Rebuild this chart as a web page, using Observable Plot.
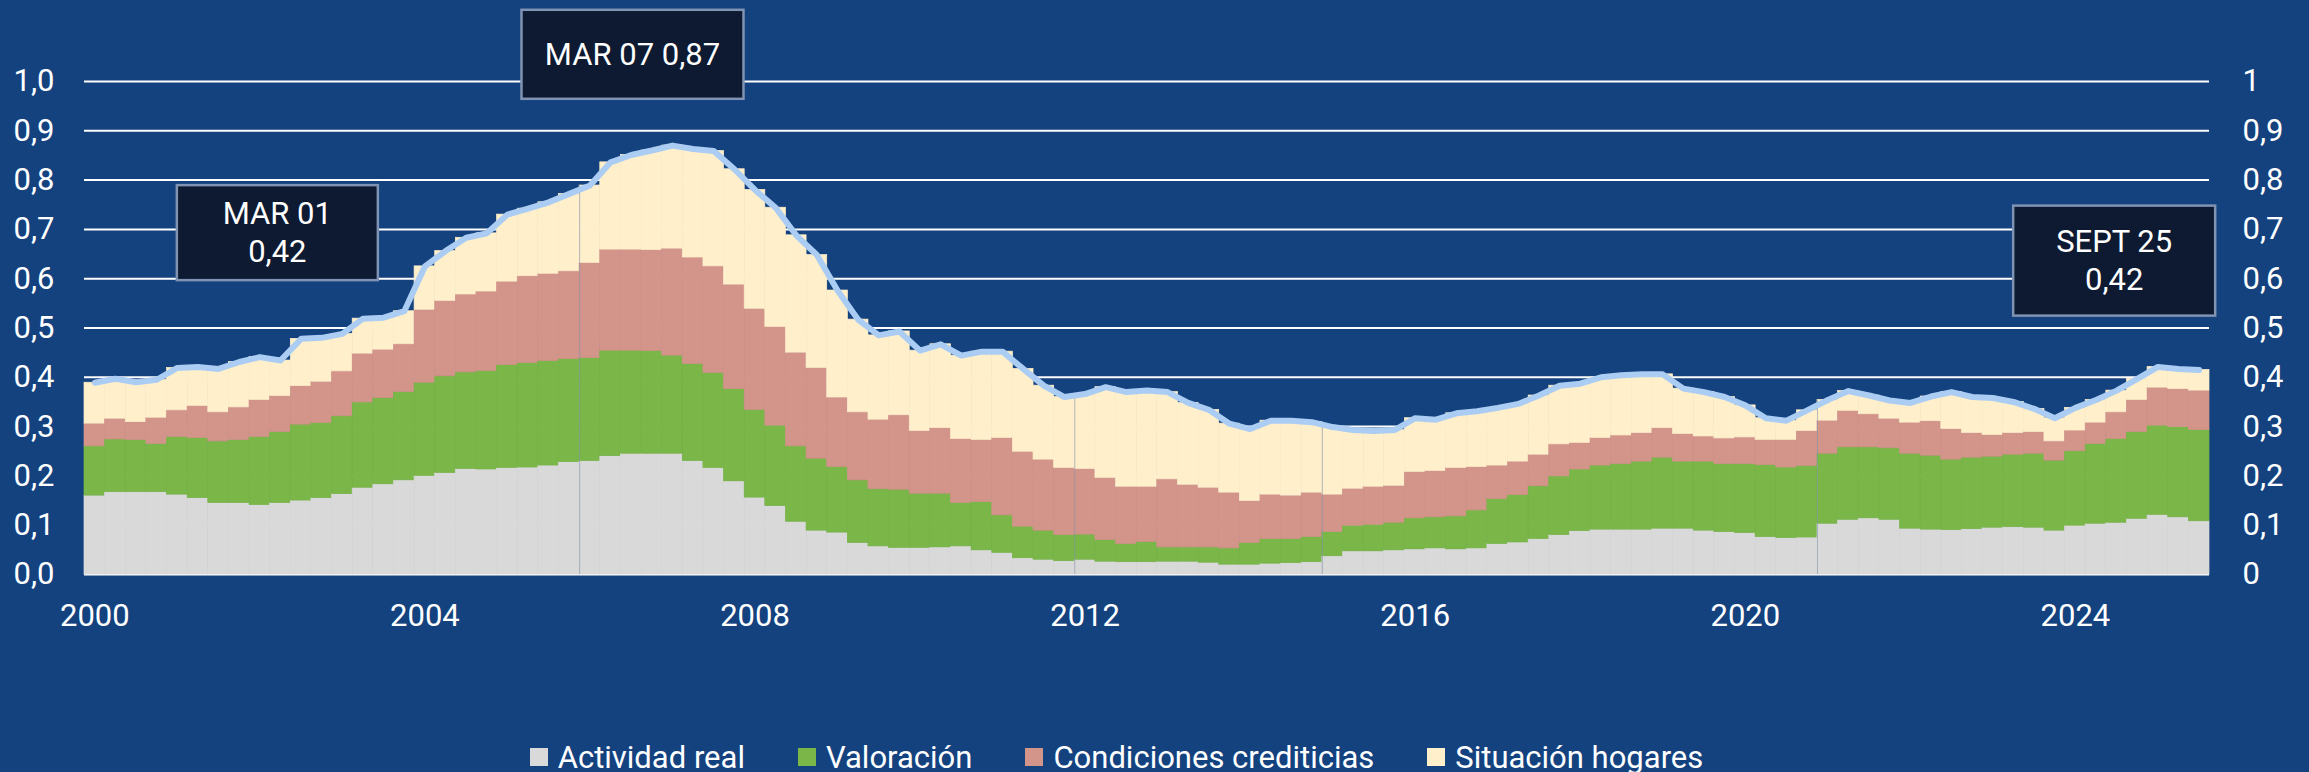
<!DOCTYPE html>
<html>
<head>
<meta charset="utf-8">
<script src="https://cdn.jsdelivr.net/npm/d3@7"></script>
<script src="https://cdn.jsdelivr.net/npm/@observablehq/plot@0.6"></script>
<style>
  html, body { margin: 0; padding: 0; background: #13427f; width: 2309px; height: 772px; overflow: hidden; font-family: Roboto, sans-serif; }
  #legend { display: flex; justify-content: center; align-items: center; height: 36px; padding-right: 76px; color: #ffffff; font-size: 31px; }
  .item { display: flex; align-items: center; margin: 0 26.5px; white-space: nowrap; }
  .sw { width: 18px; height: 18px; margin-right: 10px; }
</style>
</head>
<body>
<div id="chart"></div>
<div id="legend"></div>
<script>
// ---- categories ----
const quarters = d3.range(103).map(i => `${2000 + Math.floor(i / 4)}-T${(i % 4) + 1}`);
const seriesNames = ["Actividad real", "Valoración", "Condiciones crediticias", "Situación hogares"];
const seriesColors = ["#d9d9d9", "#7ab648", "#d3948a", "#ffefcb"];

// ---- series values (contribution of each component) ----
const actividadReal = [
  0.160,0.167,0.167,0.167, 0.162,0.155,0.145,0.145, 0.141,0.145,0.150,0.155, 0.163,0.176,0.183,0.191,
  0.200,0.206,0.214,0.213, 0.216,0.217,0.221,0.228, 0.230,0.240,0.245,0.245, 0.245,0.230,0.216,0.189,
  0.156,0.139,0.107,0.089, 0.085,0.064,0.057,0.054, 0.054,0.055,0.057,0.049, 0.044,0.033,0.030,0.027,
  0.030,0.026,0.025,0.025, 0.026,0.026,0.024,0.020, 0.020,0.022,0.023,0.025, 0.037,0.047,0.047,0.049,
  0.051,0.053,0.051,0.053, 0.062,0.065,0.072,0.080, 0.088,0.091,0.091,0.091, 0.093,0.093,0.089,0.086,
  0.084,0.076,0.074,0.075, 0.103,0.111,0.114,0.111, 0.093,0.091,0.090,0.092, 0.095,0.096,0.095,0.089,
  0.099,0.103,0.105,0.113, 0.121,0.116,0.108
];
const valoracion = [
  0.100,0.107,0.106,0.098, 0.117,0.122,0.125,0.128, 0.138,0.144,0.154,0.152, 0.158,0.173,0.175,0.179,
  0.189,0.196,0.196,0.200, 0.209,0.212,0.212,0.209, 0.209,0.214,0.209,0.208, 0.199,0.197,0.193,0.187,
  0.178,0.163,0.153,0.146, 0.133,0.127,0.116,0.118, 0.110,0.109,0.088,0.098, 0.076,0.064,0.059,0.053,
  0.051,0.044,0.037,0.041, 0.029,0.029,0.031,0.033, 0.044,0.050,0.049,0.051, 0.049,0.052,0.054,0.056,
  0.063,0.063,0.067,0.077, 0.091,0.096,0.107,0.119, 0.125,0.130,0.133,0.138, 0.144,0.136,0.140,0.138,
  0.140,0.146,0.143,0.145, 0.142,0.147,0.144,0.145, 0.152,0.150,0.143,0.145, 0.144,0.147,0.150,0.142,
  0.151,0.162,0.170,0.176, 0.181,0.183,0.185
];
const condicionesCrediticias = [
  0.046,0.042,0.036,0.053, 0.054,0.065,0.059,0.066, 0.075,0.073,0.078,0.084, 0.091,0.099,0.098,0.097,
  0.148,0.153,0.158,0.161, 0.169,0.176,0.177,0.178, 0.193,0.205,0.205,0.205, 0.217,0.216,0.216,0.212,
  0.205,0.200,0.190,0.184, 0.141,0.138,0.141,0.151, 0.127,0.133,0.130,0.126, 0.157,0.152,0.144,0.136,
  0.133,0.126,0.116,0.112, 0.138,0.127,0.121,0.113, 0.085,0.090,0.088,0.090, 0.076,0.075,0.077,0.075,
  0.094,0.094,0.098,0.088, 0.068,0.068,0.064,0.065, 0.054,0.056,0.058,0.058, 0.060,0.056,0.051,0.052,
  0.054,0.051,0.056,0.071, 0.067,0.074,0.067,0.060, 0.063,0.070,0.062,0.050, 0.044,0.044,0.044,0.039,
  0.042,0.043,0.054,0.065, 0.077,0.077,0.080
];
const situacionHogares = [
  0.083,0.081,0.081,0.077, 0.086,0.079,0.088,0.092, 0.087,0.072,0.096,0.089, 0.076,0.071,0.065,0.067,
  0.088,0.101,0.115,0.118, 0.136,0.137,0.145,0.157, 0.157,0.177,0.192,0.202, 0.209,0.220,0.234,0.234,
  0.241,0.242,0.238,0.229, 0.217,0.188,0.171,0.170, 0.163,0.170,0.169,0.179, 0.175,0.168,0.150,0.144,
  0.152,0.184,0.192,0.195, 0.177,0.166,0.158,0.140, 0.146,0.150,0.152,0.143, 0.137,0.119,0.113,0.113,
  0.109,0.104,0.111,0.113, 0.117,0.117,0.120,0.119, 0.120,0.123,0.122,0.119, 0.109,0.092,0.090,0.084,
  0.065,0.044,0.039,0.042, 0.042,0.040,0.038,0.037, 0.040,0.050,0.075,0.073, 0.075,0.063,0.047,0.047,
  0.046,0.046,0.044,0.043, 0.042,0.041,0.042
];

// ---- ticks ----
const yTicks = [0, 0.1, 0.2, 0.3, 0.4, 0.5, 0.6, 0.7, 0.8, 0.9, 1];
const xTickQuarters = ["2000-T1", "2004-T1", "2008-T1", "2012-T1", "2016-T1", "2020-T1", "2024-T1"];
const breakQuarters = ["2006-T1", "2012-T1", "2015-T1", "2021-T1"];

// ---- annotations ----
const annLabels = ["MAR 01\n0,42", "MAR 07 0,87", "SEPT 25\n0,42"];
const annQuarters = ["2001-T1", "2007-T1", "2025-T3"];

// ---- build tables ----
const seriesValues = [actividadReal, valoracion, condicionesCrediticias, situacionHogares];
const rows = [];
quarters.forEach((q, i) => seriesNames.forEach((s, j) => rows.push({q, serie: s, value: seriesValues[j][i]})));
const totals = quarters.map((q, i) => ({q, total: d3.sum(seriesValues, arr => arr[i])}));
const totalOf = new Map(totals.map(d => [d.q, d.total]));
const annotations = annLabels.map((label, k) => ({label, q: annQuarters[k], v: totalOf.get(annQuarters[k])}));

// ---- layout / style ----
const W = 2309, H = 739;
const mL = 84, mR = 100, mT = 81, mB = 165;
const bw = (W - mL - mR) / quarters.length;
const annStyle = [
  {dx: 100, dy: -137, w: 201, h: 95},
  {dx: -40, dy: -93, w: 222, h: 89},
  {dx: -85, dy: -111, w: 202, h: 110}
];
const fmtLeft = d => d.toFixed(1).replace(".", ",");
const fmtRight = d => (d === 0 ? "0" : d === 1 ? "1" : d.toFixed(1).replace(".", ","));

const plot = Plot.plot({
  width: W, height: H,
  marginLeft: mL, marginRight: mR, marginTop: mT, marginBottom: mB,
  style: {background: "#13427f", color: "#ffffff", fontFamily: "Roboto, sans-serif", fontSize: "31px", overflow: "visible"},
  x: {type: "band", domain: quarters, padding: 0, label: null},
  y: {domain: [0, 1], label: null},
  color: {domain: seriesNames, range: seriesColors},
  marks: [
    Plot.gridY(yTicks, {stroke: "#ffffff", strokeOpacity: 1, strokeWidth: 2}),
    Plot.barY(rows, {x: "q", y: "value", fill: "serie", stroke: "serie", strokeWidth: 0.7, order: seriesNames, inset: 0}),
    Plot.ruleX(breakQuarters, {x: d => d, y1: 0, y2: d => totalOf.get(d), dx: -bw / 2, stroke: "#8595ae", strokeOpacity: 0.6, strokeWidth: 1}),
    Plot.lineY(totals, {x: "q", y: "total", stroke: "#abcdf3", strokeWidth: 6, strokeLinejoin: "round"}),
    ...annotations.map((a, k) => Plot.text([a], {
      x: "q", y: "v", text: "label", dx: annStyle[k].dx, dy: annStyle[k].dy,
      fill: "#ffffff", fontSize: 31, lineHeight: 1.23
    })),
    Plot.axisX({ticks: xTickQuarters, tickFormat: q => q.slice(0, 4), tickSize: 0, tickPadding: 29, fontSize: 31, label: null}),
    Plot.axisY({anchor: "left", ticks: yTicks, tickFormat: fmtLeft, tickSize: 0, tickPadding: 30, fontSize: 31, label: null}),
    Plot.axisY({anchor: "right", ticks: yTicks, tickFormat: fmtRight, tickSize: 0, tickPadding: 33, fontSize: 31, label: null})
  ]
});
document.getElementById("chart").append(plot);

// boxes behind the annotation texts
d3.select(plot).selectAll('g[aria-label="text"]').each(function (_, k) {
  const t = this.querySelector("text");
  if (!t) return;
  const b = t.getBBox();
  const cx = b.x + b.width / 2, cy = b.y + b.height / 2;
  const st = annStyle[k];
  const r = document.createElementNS("http://www.w3.org/2000/svg", "rect");
  r.setAttribute("x", cx - st.w / 2);
  r.setAttribute("y", cy - st.h / 2);
  r.setAttribute("width", st.w);
  r.setAttribute("height", st.h);
  r.setAttribute("fill", "#0d1a31");
  r.setAttribute("stroke", "#8093b2");
  r.setAttribute("stroke-width", 2.5);
  if (t.getAttribute("transform")) r.setAttribute("transform", t.getAttribute("transform"));
  this.insertBefore(r, t);
});

// legend
const legend = d3.select("#legend");
seriesNames.forEach((s, j) => {
  const it = legend.append("div").attr("class", "item");
  it.append("div").attr("class", "sw").style("background", seriesColors[j]);
  it.append("span").text(s);
});
</script>
</body>
</html>
